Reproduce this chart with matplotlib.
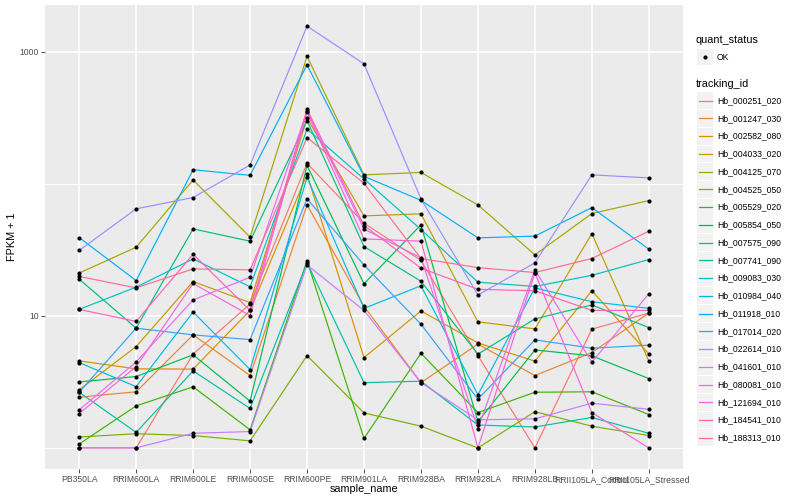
import matplotlib
matplotlib.use("Agg")
import matplotlib.pyplot as plt
from matplotlib.lines import Line2D
from matplotlib.patches import Rectangle

plt.rcParams['font.family'] = ['Liberation Sans', 'DejaVu Sans']

samples = ["PB350LA", "RRIM600LA", "RRIM600LE", "RRIM600SE", "RRIM600PE",
           "RRIM901LA", "RRIM928BA", "RRIM928LA", "RRIM928LB",
           "RRII105LA_Control", "RRII105LA_Stressed"]

tracking_ids = ["Hb_000251_020", "Hb_001247_030", "Hb_002582_080", "Hb_004033_020",
                "Hb_004125_070", "Hb_004525_050", "Hb_005529_020", "Hb_005854_050",
                "Hb_007575_090", "Hb_007741_090", "Hb_009083_030", "Hb_010984_040",
                "Hb_011918_010", "Hb_017014_020", "Hb_022614_010", "Hb_041601_010",
                "Hb_080081_010", "Hb_121694_010", "Hb_184541_010", "Hb_188313_010"]

colors = ["#F8766D", "#EA8331", "#D89000", "#C09B00", "#A3A500", "#7CAE00", "#39B600",
          "#00BB4E", "#00BF7D", "#00C1A3", "#00BFC4", "#00BAE0", "#00B0F6", "#35A2FF",
          "#9590FF", "#C77CFF", "#E76BF3", "#FA62DB", "#FF62BC", "#FF6C91"]

# FPKM + 1 values per gene, one per sample
Hb_000251_020 = [1.0, 1.0, 5.13, 12.3, 143, 50.4, 26.3, 5.0, 1.0, 7.93, 10.5]
Hb_001247_030 = [2.42, 2.66, 7.18, 3.53, 69.3, 11.8, 3.12, 6.11, 3.53, 5.27, 10.5]
Hb_002582_080 = [4.56, 3.97, 3.95, 11.0, 118, 4.83, 10.9, 6.24, 4.54, 15.5, 5.15]
Hb_004033_020 = [2.75, 5.85, 18.2, 12.6, 315, 57.2, 59.3, 9.01, 7.97, 42.0, 4.56]
Hb_004125_070 = [21.1, 33.1, 107, 39.5, 925, 117, 122, 69.3, 29.0, 59.6, 74.7]
Hb_004525_050 = [1.21, 1.28, 1.24, 1.13, 5.0, 1.84, 1.46, 1.0, 1.88, 1.46, 1.24]
Hb_005529_020 = [1.07, 2.08, 2.90, 1.37, 26.2, 1.18, 5.21, 1.85, 2.64, 2.66, 1.79]
Hb_005854_050 = [3.16, 3.47, 5.07, 2.26, 138, 17.5, 48.9, 1.58, 5.52, 4.98, 3.35]
Hb_007575_090 = [19.0, 8.07, 45.6, 36.8, 302, 33.5, 18.3, 5.13, 9.49, 12.1, 8.15]
Hb_007741_090 = [2.64, 1.31, 3.83, 1.99, 25.3, 3.12, 3.20, 1.49, 1.44, 1.70, 1.29]
Hb_009083_030 = [11.2, 16.5, 27.0, 16.6, 260, 109, 45.1, 18.0, 16.7, 20.3, 26.7]
Hb_010984_040 = [4.43, 2.91, 10.7, 3.92, 112, 11.4, 16.9, 2.53, 16.3, 12.8, 11.4]
Hb_011918_010 = [39.2, 18.5, 128, 116, 797, 114, 75.0, 39.0, 40.2, 66.1, 32.0]
Hb_017014_020 = [2.64, 8.07, 7.18, 6.61, 77.0, 24.3, 8.65, 2.34, 6.58, 5.69, 6.00]
Hb_022614_010 = [31.3, 64.7, 78.8, 139, 1567, 811, 77.0, 14.4, 25.2, 117, 111]
Hb_041601_010 = [1.0, 1.0, 1.29, 1.33, 24.3, 11.0, 3.12, 1.63, 1.66, 2.18, 1.96]
Hb_080081_010 = [1.94, 4.48, 13.2, 19.6, 357, 45.4, 27.5, 1.40, 22.3, 4.46, 14.7]
Hb_121694_010 = [1.82, 4.13, 17.6, 10.05, 349, 38.3, 36.8, 1.0, 21.2, 1.85, 1.0]
Hb_184541_010 = [11.2, 9.08, 29.3, 11.0, 368, 48.3, 23.0, 15.9, 15.5, 11.0, 11.0]
Hb_188313_010 = [19.9, 16.3, 22.7, 22.3, 224, 101, 27.2, 23.2, 21.3, 27.2, 43.8]

series = [Hb_000251_020, Hb_001247_030, Hb_002582_080, Hb_004033_020, Hb_004125_070,
          Hb_004525_050, Hb_005529_020, Hb_005854_050, Hb_007575_090, Hb_007741_090,
          Hb_009083_030, Hb_010984_040, Hb_011918_010, Hb_017014_020, Hb_022614_010,
          Hb_041601_010, Hb_080081_010, Hb_121694_010, Hb_184541_010, Hb_188313_010]

W, H = 800, 500
fig = plt.figure(figsize=(8, 5), dpi=100)
fig.patch.set_facecolor("white")

pl, pr, pt, pb = 45, 683, 5, 469
ax = fig.add_axes([pl / W, 1 - pb / H, (pr - pl) / W, (pb - pt) / H])
ax.set_facecolor("#EBEBEB")
for s in ax.spines.values():
    s.set_visible(False)

ax.set_yscale("log")
ax.set_ylim(10 ** -0.16, 10 ** 3.355)
ax.set_xlim(-0.6, 10.6)

x = list(range(len(samples)))
for vals, col in zip(series, colors):
    ax.plot(x, vals, color=col, lw=0.85, zorder=3, solid_capstyle="round")
for vals in series:
    ax.plot(x, vals, linestyle="none", marker="o", ms=3.0, color="black",
            markeredgewidth=0, zorder=4)

# axes ticks and grid
ax.set_yticks([10, 1000])
ax.set_yticklabels(["10", "1000"])
ax.set_yticks([1, 100], minor=True)
ax.yaxis.set_minor_formatter(matplotlib.ticker.NullFormatter())
ax.set_xticks(x)
ax.set_xticklabels(samples)
ax.tick_params(axis="both", which="major", length=3, width=0.6, color="#333333",
               labelsize=6.2, labelcolor="#4D4D4D", pad=1.2)
ax.tick_params(axis="y", which="minor", length=0)
ax.grid(True, which="major", color="white", lw=1.1, zorder=0)
ax.grid(True, which="minor", axis="y", color="white", lw=0.6, zorder=0)
ax.set_axisbelow(True)

fig.text(364 / W, 1 - 489 / H, "sample_name", ha="center", va="center", fontsize=7.8)
fig.text(12 / W, 1 - 237 / H, "FPKM + 1", ha="center", va="center", rotation=90,
         fontsize=7.8)

# legends
def fx(px):
    return px / W

def fy(py):
    return 1 - py / H

fig.text(fx(696), fy(40), "quant_status", ha="left", va="center", fontsize=7.8)
fig.patches.append(Rectangle((fx(697), fy(65)), 16 / W, 16 / H, transform=fig.transFigure,
                             facecolor="#F2F2F2", edgecolor="none"))
fig.lines.append(Line2D([fx(705)], [fy(57)], transform=fig.transFigure, marker="o",
                        ms=3.0, color="black", markeredgewidth=0))
fig.text(fx(717), fy(57), "OK", ha="left", va="center", fontsize=6.2)

fig.text(fx(696), fy(84), "tracking_id", ha="left", va="center", fontsize=7.8)
y0, dy = 100.7, 17.74
for i, (tid, col) in enumerate(zip(tracking_ids, colors)):
    yc = y0 + i * dy
    fig.patches.append(Rectangle((fx(697), fy(yc + 8.4)), 16 / W, 16.8 / H,
                                 transform=fig.transFigure, facecolor="#F2F2F2",
                                 edgecolor="none"))
    fig.lines.append(Line2D([fx(698.5), fx(711.5)], [fy(yc), fy(yc)],
                            transform=fig.transFigure, color=col, lw=0.9))
    fig.text(fx(717), fy(yc), tid, ha="left", va="center", fontsize=6.2)

fig.savefig("out.png", dpi=100)
